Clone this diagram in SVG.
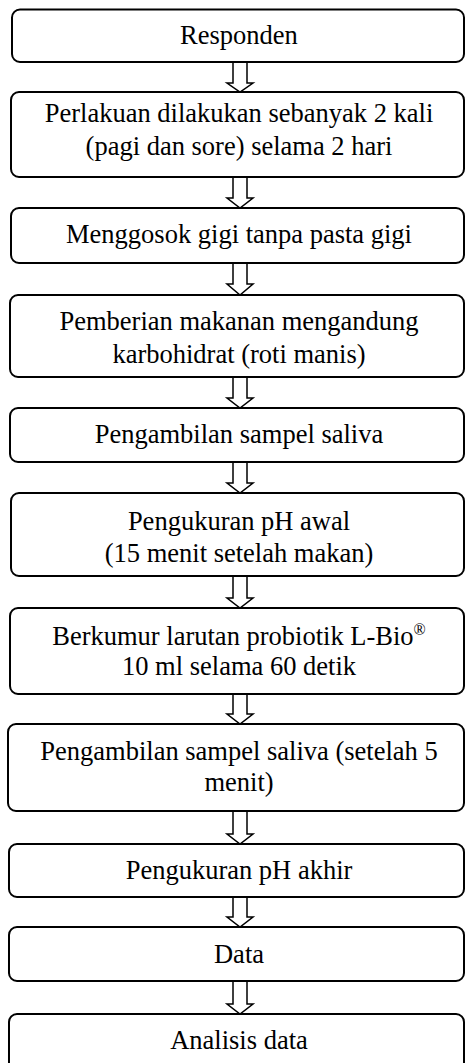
<svg xmlns="http://www.w3.org/2000/svg" width="465" height="1063" viewBox="0 0 465 1063">
<style>
.box{fill:#fff;stroke:#000;stroke-width:2}
.t{font-family:"Liberation Serif","Times New Roman",serif;font-size:26.5px;fill:#000;text-anchor:middle}
.arr{fill:#fff;stroke:#000;stroke-width:1.5;stroke-linejoin:miter}
</style>
<rect width="465" height="1063" fill="#fff"/>
<g id="connectors">
<path class="arr" d="M233,63 V83 H227 L240,92 L253,83 H247 V63"/>
<path class="arr" d="M233,178 V198 H227 L240,208 L253,198 H247 V178"/>
<path class="arr" d="M233,264 V284 H227 L240,295 L253,284 H247 V264"/>
<path class="arr" d="M233,378 V398 H227 L240,408 L253,398 H247 V378"/>
<path class="arr" d="M233,463 V483 H227 L240,493 L253,483 H247 V463"/>
<path class="arr" d="M233,577 V598 H227 L240,608 L253,598 H247 V577"/>
<path class="arr" d="M233,695 V714 H227 L240,724 L253,714 H247 V695"/>
<path class="arr" d="M233,812 V834 H227 L240,844 L253,834 H247 V812"/>
<path class="arr" d="M233,898 V917 H227 L240,927 L253,917 H247 V898"/>
<path class="arr" d="M233,982 V1004 H227 L240,1014 L253,1004 H247 V982"/>
</g>
<g id="n1"><rect class="box" x="12" y="9.5" width="452" height="52.5" rx="8"/><text class="t" x="239" y="44">Responden</text></g>
<g id="n2"><rect class="box" x="11" y="92" width="453" height="85" rx="8"/><text class="t" x="239" y="122">Perlakuan dilakukan sebanyak 2 kali</text><text class="t" x="239" y="155">(pagi dan sore) selama 2 hari</text></g>
<g id="n3"><rect class="box" x="11" y="208" width="453" height="55" rx="8"/><text class="t" x="239" y="243">Menggosok gigi tanpa pasta gigi</text></g>
<g id="n4"><rect class="box" x="10" y="295" width="454" height="82" rx="8"/><text class="t" x="239" y="330">Pemberian makanan mengandung</text><text class="t" x="239" y="363">karbohidrat (roti manis)</text></g>
<g id="n5"><rect class="box" x="10" y="408" width="454" height="54" rx="8"/><text class="t" x="239" y="443">Pengambilan sampel saliva</text></g>
<g id="n6"><rect class="box" x="11" y="493" width="453" height="83" rx="8"/><text class="t" x="239" y="530">Pengukuran pH awal</text><text class="t" x="239" y="562">(15 menit setelah makan)</text></g>
<g id="n7"><rect class="box" x="10" y="608" width="454" height="86" rx="8"/><text class="t" x="239" y="644.5">Berkumur larutan probiotik L-Bio<tspan font-size="16" dy="-10">®</tspan></text><text class="t" x="239" y="675">10 ml selama 60 detik</text></g>
<g id="n8"><rect class="box" x="8" y="724" width="456" height="87" rx="8"/><text class="t" x="239" y="760">Pengambilan sampel saliva (setelah 5</text><text class="t" x="239" y="790.5">menit)</text></g>
<g id="n9"><rect class="box" x="9" y="844" width="455" height="53" rx="8"/><text class="t" x="239" y="879">Pengukuran pH akhir</text></g>
<g id="n10"><rect class="box" x="9" y="927" width="455" height="54" rx="8"/><text class="t" x="239" y="963">Data</text></g>
<g id="n11"><rect class="box" x="9" y="1014" width="455" height="60" rx="8"/><text class="t" x="239" y="1049">Analisis data</text></g>
</svg>
